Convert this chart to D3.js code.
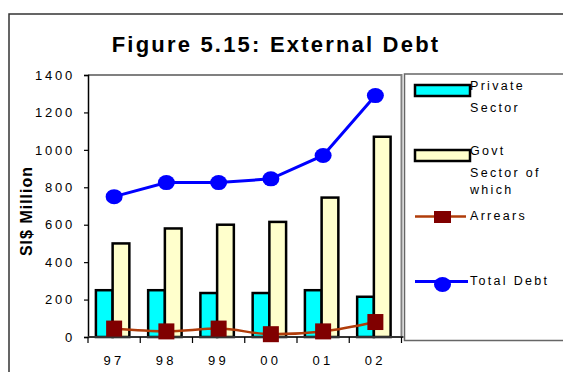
<!DOCTYPE html>
<html>
<head>
<meta charset="utf-8">
<script src="https://cdn.jsdelivr.net/npm/d3@7"></script>
<style>
  html, body { margin: 0; padding: 0; background: #fff; }
  svg { display: block; font-family: "Liberation Sans", Arial, sans-serif; }
</style>
</head>
<body>
<svg id="chart" width="563" height="372"></svg>
<script>
// External debt, SI$ million, 1997-2002
const years = ["97", "98", "99", "00", "01", "02"];
const privateSector = [250, 250, 235, 235, 250, 215];
const govtSector = [500, 580, 600, 615, 745, 1070];
const arrears = [45, 30, 45, 15, 30, 80];
const totalDebt = [750, 825, 825, 845, 970, 1290];
const yTicks = [0, 200, 400, 600, 800, 1000, 1200, 1400];

const svg = d3.select("#chart");

// outer chart frame (runs off the right and bottom edges)
svg.append("rect").attr("x", 9).attr("y", 14).attr("width", 600).attr("height", 400)
  .attr("fill", "none").attr("stroke", "#333").attr("stroke-width", 1.5);

// title
svg.append("text").attr("x", 276).attr("y", 52)
  .attr("text-anchor", "middle").attr("font-size", 22).attr("font-weight", "bold")
  .attr("letter-spacing", "2.2px").text("Figure 5.15: External Debt");

const plotL = 88, plotR = 401.5, plotT = 75, plotB = 337;

const x = d3.scaleBand().domain(years).range([plotL, plotR]).paddingInner(0).paddingOuter(0);
const y = d3.scaleLinear().domain([0, 1400]).range([plotB, plotT]);

// plot-area border (top and right in grey)
svg.append("path")
  .attr("d", `M${plotL},${plotT}H${plotR}V${plotB}`)
  .attr("fill", "none").attr("stroke", "#808080").attr("stroke-width", 2);

// bars
const bw = x.bandwidth() * 0.32;
const cx = d => x(d) + x.bandwidth() / 2;

const barG = svg.append("g");
barG.selectAll("rect.priv").data(years).join("rect")
  .attr("class", "priv")
  .attr("x", (d) => cx(d) - bw - 1.5)
  .attr("y", (d, i) => y(privateSector[i]))
  .attr("width", bw)
  .attr("height", (d, i) => y(0) - y(privateSector[i]))
  .attr("fill", "#00ffff").attr("stroke", "#000").attr("stroke-width", 2.5);
barG.selectAll("rect.govt").data(years).join("rect")
  .attr("class", "govt")
  .attr("x", (d) => cx(d) - 1.5)
  .attr("y", (d, i) => y(govtSector[i]))
  .attr("width", bw)
  .attr("height", (d, i) => y(0) - y(govtSector[i]))
  .attr("fill", "#ffffcc").attr("stroke", "#000").attr("stroke-width", 2.5);

// y axis
const yAxis = svg.append("g").attr("transform", `translate(${plotL},0)`)
  .call(d3.axisLeft(y).tickValues(yTicks).tickSize(4).tickPadding(9).tickFormat(d3.format("d")));
yAxis.select(".domain").attr("stroke", "#000").attr("stroke-width", 1.5);
yAxis.selectAll(".tick line").attr("stroke", "#000").attr("stroke-width", 1.2);
yAxis.selectAll(".tick text").attr("font-size", 13).attr("letter-spacing", "2.8px")
  .attr("fill", "#000").attr("font-family", "Liberation Sans, Arial, sans-serif");

// x axis: line, boundary ticks, centred labels
svg.append("line").attr("x1", plotL).attr("x2", plotR + 2).attr("y1", plotB).attr("y2", plotB)
  .attr("stroke", "#333").attr("stroke-width", 2);
const bounds = years.map(d => x(d)).concat([plotR]);
svg.selectAll("line.xt").data(bounds).join("line").attr("class", "xt")
  .attr("x1", d => d).attr("x2", d => d).attr("y1", plotB).attr("y2", plotB + 6)
  .attr("stroke", "#000").attr("stroke-width", 1.2);
svg.selectAll("text.xl").data(years).join("text").attr("class", "xl")
  .attr("x", d => cx(d)).attr("y", 365)
  .attr("text-anchor", "middle").attr("font-size", 13).attr("letter-spacing", "3.5px")
  .text(d => d);

// y axis title
svg.append("text").attr("transform", "translate(32,211) rotate(-90)")
  .attr("text-anchor", "middle").attr("font-size", 16).attr("font-weight", "bold")
  .attr("letter-spacing", "1px").text("SI$ Million");

// arrears line
const lineA = d3.line().x((d, i) => cx(years[i])).y(d => y(d)).curve(d3.curveMonotoneX);
svg.append("path").datum(arrears).attr("d", lineA)
  .attr("fill", "none").attr("stroke", "#b03c0a").attr("stroke-width", 2.5);
svg.selectAll("rect.arr").data(arrears).join("rect").attr("class", "arr")
  .attr("x", (d, i) => cx(years[i]) - 8).attr("y", d => y(d) - 8)
  .attr("width", 16).attr("height", 16).attr("fill", "#800000");

// total debt line
const lineT = d3.line().x((d, i) => cx(years[i])).y(d => y(d));
svg.append("path").datum(totalDebt).attr("d", lineT)
  .attr("fill", "none").attr("stroke", "#0000ff").attr("stroke-width", 3);
svg.selectAll("ellipse.tot").data(totalDebt).join("ellipse").attr("class", "tot")
  .attr("cx", (d, i) => cx(years[i])).attr("cy", d => y(d))
  .attr("rx", 8.5).attr("ry", 7.5).attr("fill", "#0000ff");

// legend
const lg = svg.append("g");
lg.append("rect").attr("x", 404.5).attr("y", 74).attr("width", 200).attr("height", 266.5)
  .attr("fill", "#fff").attr("stroke", "#666").attr("stroke-width", 1.5);
const lt = (yy, s) => lg.append("text").attr("x", 470).attr("y", yy)
  .attr("font-size", 12.5).attr("letter-spacing", "2.3px").text(s);

lg.append("rect").attr("x", 415).attr("y", 85).attr("width", 55).attr("height", 11)
  .attr("fill", "#00ffff").attr("stroke", "#000").attr("stroke-width", 2.5);
lt(89.5, "Private"); lt(112, "Sector");

lg.append("rect").attr("x", 415).attr("y", 150).attr("width", 55).attr("height", 11)
  .attr("fill", "#ffffcc").attr("stroke", "#000").attr("stroke-width", 2.5);
lt(155, "Govt"); lt(177, "Sector of"); lt(194, "which");

lg.append("line").attr("x1", 415).attr("x2", 466).attr("y1", 216.5).attr("y2", 216.5)
  .attr("stroke", "#b03c0a").attr("stroke-width", 2.5);
lg.append("rect").attr("x", 434).attr("y", 211).attr("width", 17).attr("height", 12)
  .attr("fill", "#800000");
lt(220, "Arrears");

lg.append("line").attr("x1", 415).attr("x2", 468).attr("y1", 281.5).attr("y2", 281.5)
  .attr("stroke", "#0000ff").attr("stroke-width", 3);
lg.append("ellipse").attr("cx", 442.5).attr("cy", 284.5).attr("rx", 8.5).attr("ry", 7.5)
  .attr("fill", "#0000ff");
lt(285, "Total Debt");
</script>
</body>
</html>
